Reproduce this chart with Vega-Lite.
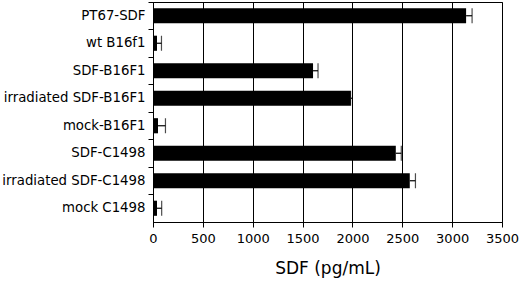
{
  "$schema": "https://vega.github.io/schema/vega-lite/v6.json",
  "autosize": {"type": "none"},
  "padding": {"left": 153, "top": 2, "right": 18, "bottom": 67},
  "width": 349,
  "height": 220,
  "background": "white",
  "config": {
    "view": {"stroke": "black", "strokeWidth": 1},
    "font": "DejaVu Sans"
  },
  "data": {
    "values": [
      {"group": "PT67-SDF", "sdf": 3140, "hi": 3200},
      {"group": "wt B16f1", "sdf": 40, "hi": 85},
      {"group": "SDF-B16F1", "sdf": 1605, "hi": 1655},
      {"group": "irradiated SDF-B16F1", "sdf": 1985, "hi": 2000},
      {"group": "mock-B16F1", "sdf": 50, "hi": 125},
      {"group": "SDF-C1498", "sdf": 2435, "hi": 2490},
      {"group": "irradiated SDF-C1498", "sdf": 2575, "hi": 2632},
      {"group": "mock C1498", "sdf": 40, "hi": 87}
    ]
  },
  "encoding": {
    "y": {
      "field": "group",
      "type": "nominal",
      "sort": null,
      "scale": {"paddingInner": 0, "paddingOuter": 0},
      "axis": {
        "title": null,
        "bandPosition": 0,
        "domainColor": "black",
        "tickColor": "black",
        "tickSize": 5,
        "labelColor": "black",
        "labelFontSize": 13.3,
        "labelPadding": 3,
        "grid": false
      }
    }
  },
  "layer": [
    {
      "mark": {"type": "bar", "color": "black", "height": {"band": 0.55}},
      "encoding": {
        "x": {
          "field": "sdf",
          "type": "quantitative",
          "scale": {"domain": [0, 3500], "nice": false},
          "axis": {
            "title": "SDF (pg/mL)",
            "values": [0, 500, 1000, 1500, 2000, 2500, 3000, 3500],
            "format": "d",
            "grid": true,
            "gridColor": "black",
            "gridOpacity": 1,
            "domainColor": "black",
            "tickColor": "black",
            "tickSize": 5,
            "labelColor": "black",
            "labelFontSize": 13,
            "labelPadding": 5,
            "labelFlush": false,
            "titleColor": "black",
            "titleFontSize": 17,
            "titleFontWeight": "normal",
            "titlePadding": 15
          }
        }
      }
    },
    {
      "mark": {"type": "rule", "color": "black", "strokeWidth": 1.2},
      "encoding": {
        "x": {"field": "sdf", "type": "quantitative"},
        "x2": {"field": "hi"}
      }
    },
    {
      "mark": {"type": "tick", "color": "black", "thickness": 1.2, "size": 15, "orient": "vertical"},
      "encoding": {
        "x": {"field": "hi", "type": "quantitative"}
      }
    }
  ]
}
